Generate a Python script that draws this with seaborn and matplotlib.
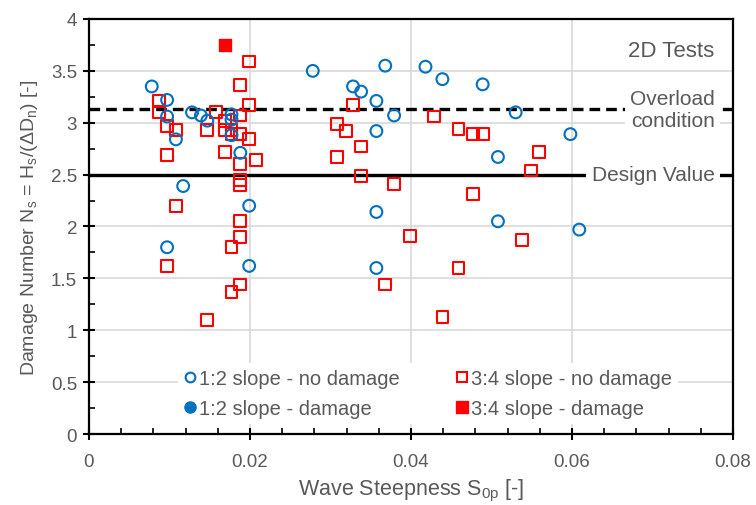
import matplotlib
matplotlib.use("Agg")
import matplotlib.pyplot as plt
import seaborn as sns
import pandas as pd
from matplotlib.lines import Line2D
from matplotlib.ticker import MultipleLocator

# ---- data ----
blue_nd_x = [0.0078, 0.0097, 0.0097, 0.0108, 0.0128, 0.0139, 0.0147, 0.0177, 0.0177, 0.0177,
             0.0188, 0.0117, 0.0199, 0.0097, 0.0199, 0.0278, 0.0328, 0.0338, 0.0368, 0.0357,
             0.0379, 0.0357, 0.0418, 0.0439, 0.0357, 0.0357, 0.0489, 0.0530, 0.0598, 0.0508,
             0.0508, 0.0609]
blue_nd_y = [3.35, 3.22, 3.06, 2.84, 3.10, 3.07, 3.02, 3.08, 3.03, 2.88,
             2.71, 2.39, 2.20, 1.80, 1.62, 3.50, 3.35, 3.30, 3.55, 3.21,
             3.07, 2.92, 3.54, 3.42, 2.14, 1.60, 3.37, 3.10, 2.89, 2.67,
             2.05, 1.97]

red_nd_x = [0.0199, 0.0188, 0.0087, 0.0087, 0.0199, 0.0097, 0.0108, 0.0158, 0.0169, 0.0169,
            0.0177, 0.0177, 0.0188, 0.0188, 0.0199, 0.0147, 0.0097, 0.0169, 0.0188, 0.0207,
            0.0188, 0.0188, 0.0108, 0.0188, 0.0188, 0.0177, 0.0097, 0.0188, 0.0177, 0.0147,
            0.0328, 0.0308, 0.0319, 0.0338, 0.0308, 0.0338, 0.0379, 0.0399, 0.0368, 0.0429,
            0.0459, 0.0439, 0.0459, 0.0477, 0.0489, 0.0559, 0.0549, 0.0477, 0.0538]
red_nd_y = [3.59, 3.36, 3.21, 3.10, 3.17, 2.97, 2.93, 3.10, 3.02, 2.93,
            2.93, 2.89, 3.07, 2.89, 2.84, 2.93, 2.69, 2.72, 2.60, 2.64,
            2.45, 2.40, 2.20, 2.05, 1.90, 1.80, 1.62, 1.44, 1.37, 1.10,
            3.17, 2.99, 2.92, 2.77, 2.67, 2.49, 2.41, 1.91, 1.44, 3.06,
            2.94, 1.13, 1.60, 2.89, 2.89, 2.72, 2.54, 2.31, 1.87]

blue_d_x = []
blue_d_y = []
red_d_x = [0.0169]
red_d_y = [3.75]

design_value = 2.5
overload_value = 3.13

series_labels = ["1:2 slope - no damage", "1:2 slope - damage",
                 "3:4 slope - no damage", "3:4 slope - damage"]

BLUE = "#0070C0"
RED = "#FF0000"
GREY = "#595959"

sns.set_style("white")
plt.rcParams["font.family"] = ["Liberation Sans", "DejaVu Sans"]
plt.rcParams["mathtext.fontset"] = "custom"
plt.rcParams["mathtext.rm"] = "Liberation Sans"
plt.rcParams["mathtext.it"] = "Liberation Sans"

fig = plt.figure(figsize=(7.56, 5.06), dpi=100)
ax = fig.add_axes([0.1177, 0.1403, 0.9696 - 0.1177, 0.9605 - 0.1403])

# gridlines
ax.set_axisbelow(True)
ax.grid(True, which="major", color="#d9d9d9", linewidth=1.2)
ax.xaxis.set_major_locator(MultipleLocator(0.02))
ax.yaxis.set_major_locator(MultipleLocator(0.5))
ax.xaxis.set_minor_locator(MultipleLocator(0.004))
ax.yaxis.set_minor_locator(MultipleLocator(0.25))

# reference lines
ax.axhline(design_value, color="black", lw=2.4, zorder=2)
ax.axhline(overload_value, color="black", lw=2.4, ls=(0, (3.2, 1.8)), zorder=2)

ms = 72
df_b = pd.DataFrame({"x": blue_nd_x, "y": blue_nd_y})
df_r = pd.DataFrame({"x": red_nd_x, "y": red_nd_y})
df_rd = pd.DataFrame({"x": red_d_x, "y": red_d_y})
sns.scatterplot(data=df_r, x="x", y="y", ax=ax, marker="s", s=ms, facecolors="none",
                edgecolor=RED, linewidth=1.5, zorder=3)
sns.scatterplot(data=df_b, x="x", y="y", ax=ax, marker="o", s=ms, facecolors="none",
                edgecolor=BLUE, linewidth=1.5, zorder=3)
if blue_d_x:
    sns.scatterplot(x=blue_d_x, y=blue_d_y, ax=ax, marker="o", s=ms, color=BLUE,
                    edgecolor=BLUE, zorder=3)
sns.scatterplot(data=df_rd, x="x", y="y", ax=ax, marker="s", s=ms, color=RED,
                edgecolor=RED, linewidth=1.0, zorder=3)

ax.set_xlim(0, 0.08)
ax.set_ylim(0, 4)
ax.set_xticks([0, 0.02, 0.04, 0.06, 0.08])
ax.set_xticklabels(["0", "0.02", "0.04", "0.06", "0.08"])
ax.set_yticks([0, 0.5, 1, 1.5, 2, 2.5, 3, 3.5, 4])
ax.set_yticklabels(["0", "0.5", "1", "1.5", "2", "2.5", "3", "3.5", "4"])

for sp in ax.spines.values():
    sp.set_visible(True)
    sp.set_color("black")
    sp.set_linewidth(1.6)

ax.tick_params(which="major", direction="inout", length=9, width=1.5, color="black",
               labelcolor=GREY, labelsize=13.5, pad=4)
ax.tick_params(which="minor", direction="in", length=4, width=1.2, color="black")
ax.tick_params(axis="x", which="both", bottom=True, top=False)
ax.tick_params(axis="y", which="both", left=True, right=False)
ax.tick_params(axis="x", which="major", pad=9)

ax.set_xlabel("Wave Steepness S$_{\\mathrm{0p}}$ [-]", color=GREY, fontsize=15.5, labelpad=5)
ax.set_ylabel("Damage Number N$_{\\mathrm{s}}$ = H$_{\\mathrm{s}}$/(ΔD$_{\\mathrm{n}}$) [-]",
              color=GREY, fontsize=14, labelpad=8)

# annotations
bbox = dict(boxstyle="square,pad=0.25", fc="white", ec="none")
ax.text(0.0777, overload_value, "Overload\ncondition", ha="right", va="center",
        fontsize=15, color=GREY, bbox=bbox, linespacing=1.2, zorder=4)
ax.text(0.0777, design_value, "Design Value", ha="right", va="center",
        fontsize=15, color=GREY, bbox=bbox, zorder=4)
ax.text(0.0777, 3.70, "2D Tests", ha="right", va="center", fontsize=16, color=GREY, zorder=4)

# legend
handles = [
    Line2D([], [], ls="none", marker="o", ms=7, mfc="white", mec=BLUE, mew=1.5),
    Line2D([], [], ls="none", marker="o", ms=8, mfc=BLUE, mec=BLUE),
    Line2D([], [], ls="none", marker="s", ms=7, mfc="white", mec=RED, mew=1.5),
    Line2D([], [], ls="none", marker="s", ms=8, mfc=RED, mec=RED),
]
leg = ax.legend(handles, series_labels, ncol=2, loc="upper left",
                bbox_to_anchor=(0.138, 0.171), frameon=True, fontsize=14.5,
                handlelength=0.6, handletextpad=0.15, columnspacing=2.8,
                labelspacing=0.55, borderaxespad=0, borderpad=0.3, labelcolor=GREY)
leg.get_frame().set_facecolor("white")
leg.get_frame().set_edgecolor("none")
leg.get_frame().set_alpha(1)
leg.set_zorder(5)

fig.savefig("out.png", dpi=100)
